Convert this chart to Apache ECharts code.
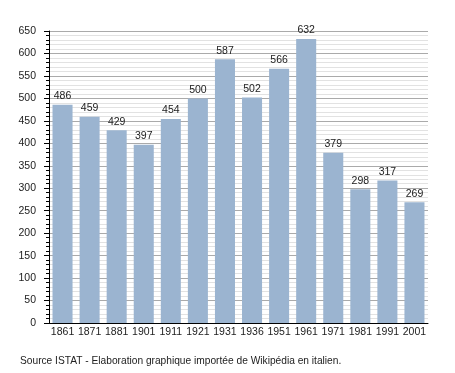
<!DOCTYPE html>
<html><head><meta charset="utf-8">
<script src="https://cdn.jsdelivr.net/npm/echarts@6/dist/echarts.min.js"></script>
<style>html,body{margin:0;padding:0;background:#fff}#c{width:455px;height:373px}</style>
</head><body><div id="c"></div>
<script>
const years = ['1861','1871','1881','1901','1911','1921','1931','1936','1951','1961','1971','1981','1991','2001'];
const population = [486,459,429,397,454,500,587,502,566,632,379,298,317,269];
const sourceNote = 'Source ISTAT - Elaboration graphique importée de Wikipédia en italien.';
const FONT = '"Liberation Sans", Arial, sans-serif';
const chart = echarts.init(document.getElementById('c'), null, {renderer:'canvas'});
chart.setOption({
  animation:false,
  backgroundColor:'#fff',
  grid:{left:49,right:27,top:31,bottom:50},
  graphic:[{type:'text',left:20,top:356,style:{text:sourceNote,font:'10.2px '+FONT,fill:'#222'}}],
  xAxis:{type:'category',data:years,
    axisLine:{lineStyle:{color:'#000',width:1}},
    axisTick:{show:false},
    axisLabel:{color:'#222',fontFamily:FONT,fontSize:10.5,margin:4,interval:0},
    splitLine:{show:false}},
  yAxis:{type:'value',min:0,max:650,interval:50,
    axisLine:{show:true,lineStyle:{color:'#000',width:1}},
    axisTick:{show:true,length:5,lineStyle:{color:'#000'}},
    minorTick:{show:true,splitNumber:5,length:3,lineStyle:{color:'#000'}},
    axisLabel:{color:'#222',fontFamily:FONT,fontSize:10.5,margin:13},
    splitLine:{show:true,lineStyle:{color:'#aaaaaa',width:1}},
    minorSplitLine:{show:true,lineStyle:{color:'#e2e2e2',width:1}}},
  series:[{type:'bar',data:population,barCategoryGap:'26%',
    itemStyle:{color:'#9bb4d0'},
    label:{show:true,position:'top',distance:3,color:'#222',fontFamily:FONT,fontSize:10.5}}]
});
</script></body></html>
